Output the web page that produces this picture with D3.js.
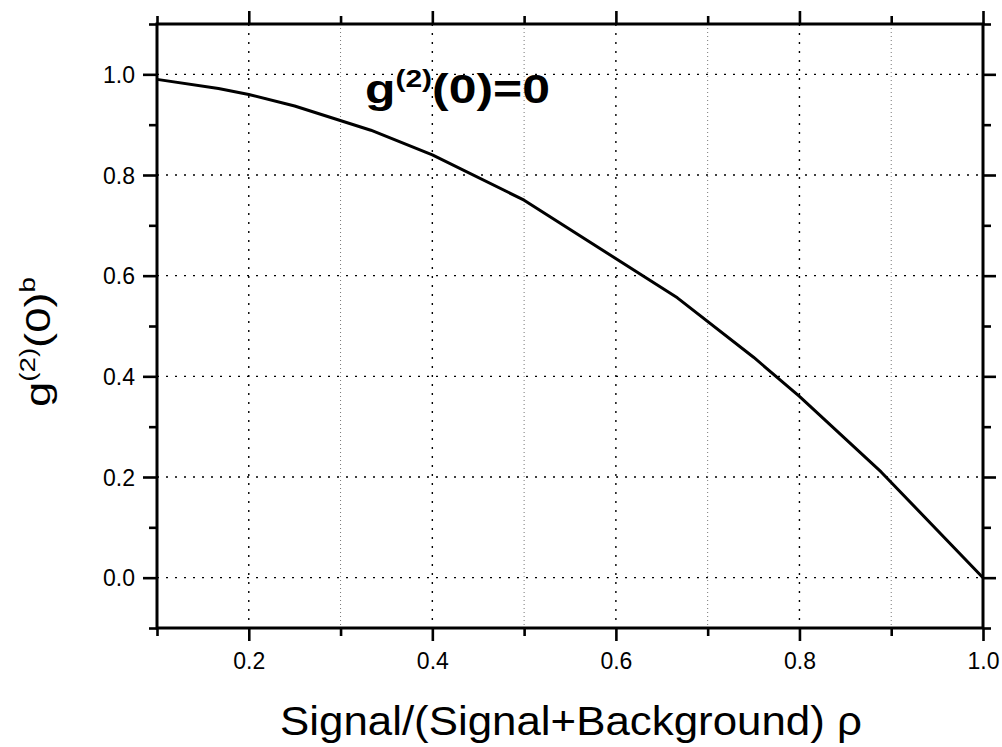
<!DOCTYPE html>
<html>
<head>
<meta charset="utf-8">
<script src="https://cdn.jsdelivr.net/npm/d3@7/dist/d3.min.js"></script>
<style>
  html, body { margin: 0; padding: 0; background: #fff; }
  svg { display: block; font-family: "Liberation Sans", Arial, sans-serif; }
</style>
</head>
<body>
<svg id="chart" width="1002" height="747"></svg>
<script>
// g2(0) of the background-contaminated source versus signal fraction rho
const rho = [0.1, 0.167, 0.2, 0.25, 0.333, 0.4, 0.5, 0.667, 0.75, 0.8, 0.889, 1.0];
const g2b = [0.99, 0.972, 0.96, 0.937, 0.889, 0.84, 0.75, 0.556, 0.438, 0.36, 0.21, 0.0];

const xMajor = [0.2, 0.4, 0.6, 0.8, 1.0];
const xMinor = [0.1, 0.3, 0.5, 0.7, 0.9];
const yMajor = [0.0, 0.2, 0.4, 0.6, 0.8, 1.0];
const yMinor = [-0.1, 0.1, 0.3, 0.5, 0.7, 0.9, 1.1];

const svg = d3.select("#chart");
const L = 157, R = 983, T = 24, B = 628;

const x = d3.scaleLinear().domain([0.1, 1.0]).range([L, R]);
const y = d3.scaleLinear().domain([-0.1, 1.1]).range([B, T]);

// grid
const grid = svg.append("g");
grid.selectAll(".gy").data(yMajor).join("line")
  .attr("x1", L).attr("x2", R).attr("y1", d => y(d)).attr("y2", d => y(d))
  .attr("stroke", "#000").attr("stroke-width", 1.4).attr("stroke-dasharray", "2,7");
grid.selectAll(".gx").data(xMajor.filter(d => d < 1)).join("line")
  .attr("y1", T).attr("y2", B).attr("x1", d => x(d)).attr("x2", d => x(d))
  .attr("stroke", "#000").attr("stroke-width", 1.4).attr("stroke-dasharray", "2,7");
grid.selectAll(".gxm").data(xMinor.filter(d => d > 0.1)).join("line")
  .attr("y1", T).attr("y2", B).attr("x1", d => x(d)).attr("x2", d => x(d))
  .attr("stroke", "#777").attr("stroke-width", 1).attr("stroke-dasharray", "1,3");

// axes
function styleAxis(g) {
  g.select(".domain").remove();
  g.selectAll(".tick line").attr("stroke", "#000").attr("stroke-width", 2.6);
}
const fmt = d3.format(".1f");

svg.append("g").attr("transform", `translate(0,${B})`)
  .call(d3.axisBottom(x).tickValues(xMinor).tickSize(8).tickFormat(""))
  .call(styleAxis);
const xb = svg.append("g").attr("transform", `translate(0,${B})`)
  .call(d3.axisBottom(x).tickValues(xMajor).tickSize(13).tickFormat(fmt))
  .call(styleAxis);
xb.selectAll(".tick text").attr("y", 41).attr("dy", null)
  .attr("font-size", 23).attr("fill", "#000").attr("font-family", "Liberation Sans, Arial, sans-serif");

svg.append("g").attr("transform", `translate(0,${T})`)
  .call(d3.axisTop(x).tickValues(xMinor).tickSize(8).tickFormat(""))
  .call(styleAxis);
svg.append("g").attr("transform", `translate(0,${T})`)
  .call(d3.axisTop(x).tickValues(xMajor).tickSize(13).tickFormat(""))
  .call(styleAxis);

svg.append("g").attr("transform", `translate(${L},0)`)
  .call(d3.axisLeft(y).tickValues(yMinor).tickSize(8).tickFormat(""))
  .call(styleAxis);
const yl = svg.append("g").attr("transform", `translate(${L},0)`)
  .call(d3.axisLeft(y).tickValues(yMajor).tickSize(14).tickPadding(8).tickFormat(fmt))
  .call(styleAxis);
yl.selectAll(".tick text").attr("dy", "0.36em")
  .attr("font-size", 23).attr("fill", "#000").attr("font-family", "Liberation Sans, Arial, sans-serif");

svg.append("g").attr("transform", `translate(${R},0)`)
  .call(d3.axisRight(y).tickValues(yMinor).tickSize(8).tickFormat(""))
  .call(styleAxis);
svg.append("g").attr("transform", `translate(${R},0)`)
  .call(d3.axisRight(y).tickValues(yMajor).tickSize(13).tickFormat(""))
  .call(styleAxis);

// frame
svg.append("rect").attr("x", L).attr("y", T).attr("width", R - L).attr("height", B - T)
  .attr("fill", "none").attr("stroke", "#000").attr("stroke-width", 3);

// curve
const line = d3.line().x(d => x(d[0])).y(d => y(d[1]));
svg.append("path").datum(rho.map((r, i) => [r, g2b[i]]))
  .attr("d", line).attr("fill", "none").attr("stroke", "#000")
  .attr("stroke-width", 3).attr("stroke-linejoin", "round");

// annotation g(2)(0)=0
const ann = svg.append("text").attr("font-weight", "bold").attr("fill", "#000");
ann.append("tspan").attr("font-size", 40).text("g");
ann.append("tspan").attr("font-size", 24).attr("dy", -16).text("(2)");
ann.append("tspan").attr("font-size", 40).attr("dy", 16).text("(0)=0");
{
  const w = ann.node().getBBox().width;
  ann.attr("transform", `translate(365,103) scale(${185 / w},1)`);
}

// y axis title g(2)(0)^b
const yt = svg.append("text").attr("fill", "#000");
yt.append("tspan").attr("font-size", 36).text("g");
yt.append("tspan").attr("font-size", 22).attr("dy", -15).text("(2)");
yt.append("tspan").attr("font-size", 36).attr("dy", 15).text("(0)");
yt.append("tspan").attr("font-size", 22).attr("dy", -15).text("b");
{
  const w = yt.node().getBBox().width;
  yt.attr("transform", `translate(50,407) rotate(-90) scale(${130 / w},1)`);
}

// x axis title
svg.append("text").attr("x", 280).attr("y", 735)
  .attr("font-size", 41).attr("fill", "#000")
  .attr("textLength", 582).attr("lengthAdjust", "spacingAndGlyphs")
  .text("Signal/(Signal+Background) \u03c1");
</script>
</body>
</html>
